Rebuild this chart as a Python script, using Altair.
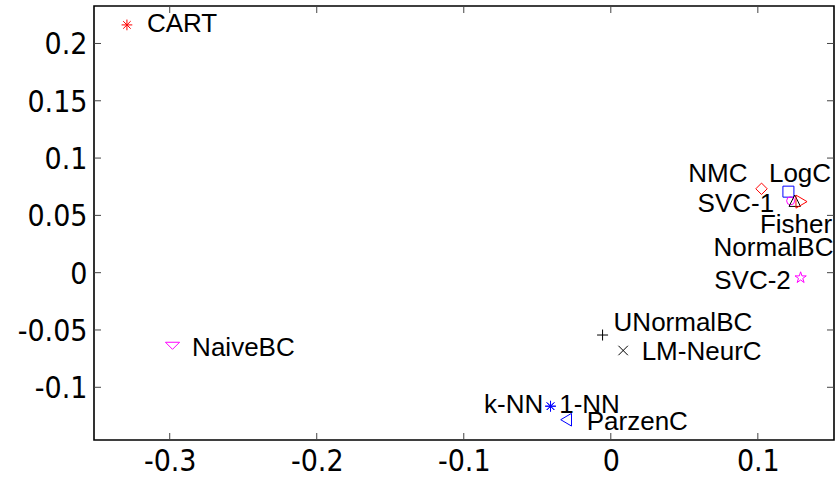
import math
import altair as alt
import pandas as pd

# Classifier positions in the 2-D embedding
names = ["CART", "NaiveBC", "UNormalBC", "LM-NeurC", "k-NN", "1-NN", "ParzenC",
         "NMC", "LogC", "SVC-1", "Fisher", "NormalBC", "SVC-2"]
x_vals = [-0.3291, -0.2981, -0.0056, 0.0084, -0.0410, -0.0410, -0.0304,
          0.1025, 0.1208, 0.1223, 0.1251, 0.1297, 0.1291]
y_vals = [0.2162, -0.0638, -0.0544, -0.0679, -0.1165, -0.1165, -0.1283,
          0.0732, 0.0707, 0.0627, 0.0628, 0.0620, -0.0044]
markers = ["asterisk", "tri-down", "plus", "xmark", "asterisk", "asterisk", "tri-left",
           "diamond", "square", "circle", "tri-up", "tri-right", "pentagram"]
colors = ["red", "magenta", "black", "black", "blue", "blue", "blue",
          "red", "blue", "magenta", "black", "red", "magenta"]

x_ticks = [-0.3, -0.2, -0.1, 0, 0.1]
y_ticks = [-0.1, -0.05, 0, 0.05, 0.1, 0.15, 0.2]

X_DOMAIN = [-0.3515, 0.1518]
Y_DOMAIN = [-0.146, 0.2327]
W, H = 740, 434
TICK_LEN = 7


def pentagram_path():
    pts = []
    for i in range(10):
        r = 1.0 if i % 2 == 0 else 0.382
        a = -math.pi / 2 + i * math.pi / 5
        pts.append(f"{r * math.cos(a):.3f},{r * math.sin(a):.3f}")
    return "M" + "L".join(pts) + "Z"


# marker glyphs (unit box) and their sizes
marker_style = {
    "asterisk": ("M-1,0L1,0M0,-1L0,1M-0.7,-0.7L0.7,0.7M-0.7,0.7L0.7,-0.7", 115),
    "plus": ("M-1,0L1,0M0,-1L0,1", 121),
    "xmark": ("M-1,-1L1,1M-1,1L1,-1", 90),
    "diamond": ("M0,-1L1,0L0,1L-1,0Z", 130),
    "square": ("M-1,-1L1,-1L1,1L-1,1Z", 121),
    "circle": ("circle", 64),
    "tri-up": ("M0,-1L1,1L-1,1Z", 130),
    "tri-down": ("M-1,-0.5L1,-0.5L0,0.5Z", 200),
    "tri-left": ("M0.85,-1L0.85,1L-0.85,0Z", 161),
    "tri-right": ("M-0.85,-1L-0.85,1L0.85,0Z", 170),
    "pentagram": (pentagram_path(), 140),
}

# label placement: (align, dx, dy)
label_pos = {
    "CART": ("left", 20, 7),
    "NaiveBC": ("left", 19.6, 10.7),
    "UNormalBC": ("left", 11, -3.7),
    "LM-NeurC": ("left", 18.5, 9.8),
    "k-NN": ("right", -7.3, 6.4),
    "1-NN": ("left", 8.7, 6.4),
    "ParzenC": ("left", 20.6, 10.6),
    "NMC": ("right", -14, -7.2),
    "LogC": ("left", -19.5, -10.1),
    "SVC-1": ("right", -16.5, 11),
    "Fisher": ("left", -34.8, 32.4),
    "NormalBC": ("right", 32, 54.8),
    "SVC-2": ("right", -9.8, 11.6),
}

df = pd.DataFrame({"name": names, "x": x_vals, "y": y_vals,
                   "marker": markers, "color": colors})
xt = pd.DataFrame({"x": x_ticks})
yt = pd.DataFrame({"y": y_ticks})

xscale = alt.Scale(domain=X_DOMAIN, nice=False, zero=False)
yscale = alt.Scale(domain=Y_DOMAIN, nice=False, zero=False)

tick_font = "Liberation Sans Narrow, DejaVu Sans Condensed, Liberation Sans"
x_axis = alt.Axis(values=x_ticks, labelExpr="'' + datum.value", title=None,
                  tickSize=0, domain=False, grid=False, labelFont=tick_font,
                  labelFontSize=30, labelColor="black", labelPadding=6,
                  labelFlush=False)
y_axis = alt.Axis(values=y_ticks, labelExpr="'' + datum.value", title=None,
                  tickSize=0, domain=False, grid=False, labelFont=tick_font,
                  labelFontSize=30, labelColor="black", labelPadding=7,
                  labelOffset=1.5, labelFlush=False)


def X():
    return alt.X("x:Q", scale=xscale, axis=x_axis)


def Y():
    return alt.Y("y:Q", scale=yscale, axis=y_axis)


layers = []

# inward ticks on all four sides of the box
tick_color = "#444444"
layers.append(alt.Chart(xt).mark_rule(color=tick_color, strokeWidth=1).encode(
    x=X(), y=alt.value(H), y2=alt.value(H - TICK_LEN)))
layers.append(alt.Chart(xt).mark_rule(color=tick_color, strokeWidth=1).encode(
    x=X(), y=alt.value(0), y2=alt.value(TICK_LEN)))
layers.append(alt.Chart(yt).mark_rule(color=tick_color, strokeWidth=1).encode(
    y=Y(), x=alt.value(0), x2=alt.value(TICK_LEN)))
layers.append(alt.Chart(yt).mark_rule(color=tick_color, strokeWidth=1).encode(
    y=Y(), x=alt.value(W), x2=alt.value(W - TICK_LEN)))

# markers, in plotting order
for name, mk in zip(names, markers):
    shape, size = marker_style[mk]
    layers.append(
        alt.Chart(df).transform_filter(alt.datum.name == name)
        .mark_point(shape=shape, size=size, filled=False, strokeWidth=1, opacity=1)
        .encode(x=X(), y=Y(), stroke=alt.Stroke("color:N", scale=None))
    )

# text labels
for name in names:
    align, dx, dy = label_pos[name]
    layers.append(
        alt.Chart(df).transform_filter(alt.datum.name == name)
        .mark_text(align=align, baseline="alphabetic", dx=dx, dy=dy,
                   font="Liberation Sans", fontSize=26, color="black")
        .encode(x=X(), y=Y(), text="name:N")
    )

chart = (
    alt.layer(*layers)
    .properties(width=W, height=H,
                autosize=alt.AutoSizeParams(type="none"),
                padding={"left": 94, "top": 6, "right": 6, "bottom": 37},
                background="white")
    .configure_view(stroke="black", strokeWidth=1.6)
)

chart.save("out.html", embed_options={"renderer": "svg", "actions": False})
